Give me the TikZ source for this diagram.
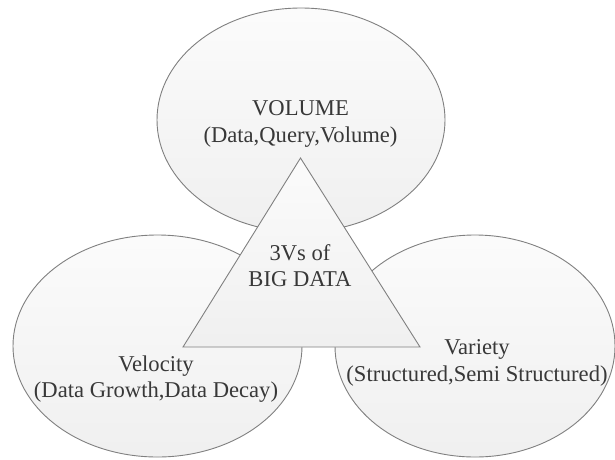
\documentclass[tikz,border=0pt]{standalone}
\usepackage{fontspec}
\setmainfont{Liberation Serif}
\usetikzlibrary{shapes.geometric}
\definecolor{edgegray}{HTML}{808080}
\definecolor{txtgray}{HTML}{383838}
\tikzset{
  vblob/.style={ellipse, draw=edgegray, line width=0.9pt, top color=white!97!gray, bottom color=gray!12, inner sep=0pt},
  vtext/.style={align=center, text=txtgray, font=\fontsize{22.6}{26.5}\selectfont, inner sep=0pt}
}
\begin{document}
\begin{tikzpicture}[x=1pt,y=-1pt]
\useasboundingbox (0,0) rectangle (615,459);
\fill[white] (0,0) rectangle (615,459);
% ellipses
\node[vblob, minimum width=288pt, minimum height=224pt] (vol) at (301,120) {};
\node[vblob, minimum width=289pt, minimum height=222pt] (vel) at (157.5,346) {};
\node[vblob, minimum width=280pt, minimum height=222pt] (var) at (475,346) {};
% triangle
\coordinate (tA) at (300.5,158);
\coordinate (tL) at (183,347);
\coordinate (tR) at (420,347);
\draw[draw=edgegray, line width=0.9pt, top color=white!97!gray, bottom color=gray!12, line join=miter] (tA) -- (tR) -- (tL) -- cycle;
% texts
\node[vtext] (voltxt) at (300.5,124) {VOLUME\\(Data,Query,Volume)};
\node[vtext] (cen) at (300,265.5) {3Vs of\\BIG DATA};
\node[vtext] (veltxt) at (156,379) {Velocity\\(Data Growth,Data Decay)};
\node[vtext] (vartxt) at (477,363) {Variety\\(Structured,Semi Structured)};
\end{tikzpicture}
\end{document}
